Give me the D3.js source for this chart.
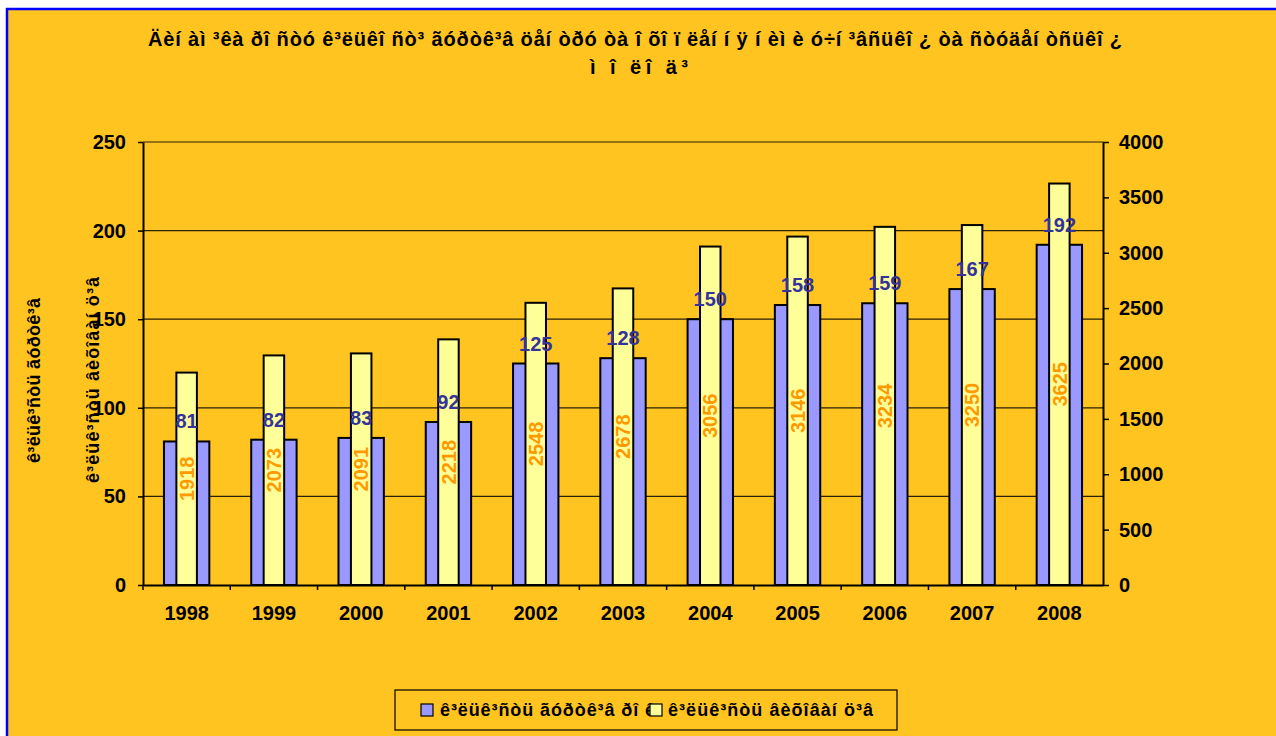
<!DOCTYPE html>
<html>
<head>
<meta charset="utf-8">
<script src="https://cdn.jsdelivr.net/npm/d3@7"></script>
<style>
  body { margin: 0; background: #fff; }
  text { font-family: Arial, "Liberation Sans", sans-serif; font-weight: bold; }
</style>
</head>
<body>
<div id="vis"></div>
<script>
var width = 1276;
var height = 736;

// data
const years = ["1998", "1999", "2000", "2001", "2002", "2003", "2004", "2005", "2006", "2007", "2008"];
const clubs = [81, 82, 83, 92, 125, 128, 150, 158, 159, 167, 192];
const members = [1918, 2073, 2091, 2218, 2548, 2678, 3056, 3146, 3234, 3250, 3625];
const leftTicks = [0, 50, 100, 150, 200, 250];
const rightTicks = [0, 500, 1000, 1500, 2000, 2500, 3000, 3500, 4000];
const titleLines = [
  "Äèí àì ³êà ðî ñòó ê³ëüêî ñò³ ãóðòê³â öåí òðó òà î õî ï ëåí í ÿ í èì è ó÷í ³âñüêî ¿ òà ñòóäåí òñüêî ¿",
  "ì î ëî ä³"
];
const seriesNames = ["ê³ëüê³ñòü ãóðòê³â  ðî ê", "ê³ëüê³ñòü âèõîâàí ö³â"];
const axisTitles = ["ê³ëüê³ñòü ãóðòê³â", "ê³ëüê³ñòü âèõîâàí ö³â"];

const BG = "#FFC41F";
const BLUE = "#9999FF";
const YELLOW = "#FFFF99";

var plot = { left: 143, right: 1103, top: 142, bottom: 585 };

var svg = d3.select("#vis").append("svg")
  .attr("width", width)
  .attr("height", height);

// background + border
svg.append("rect")
  .attr("x", 7).attr("y", 9)
  .attr("width", width).attr("height", height)
  .attr("fill", BG)
  .attr("stroke", "#0000FF")
  .attr("stroke-width", 2.5);

// scales
var x = d3.scaleBand().domain(years).range([plot.left, plot.right]).padding(0);
var yL = d3.scaleLinear().domain([0, 250]).range([plot.bottom, plot.top]);
var yR = d3.scaleLinear().domain([0, 4000]).range([plot.bottom, plot.top]);

// gridlines
svg.append("g").selectAll("line")
  .data(leftTicks.filter(function (d) { return d > 0; }))
  .enter().append("line")
  .attr("x1", plot.left).attr("x2", plot.right)
  .attr("y1", function (d) { return yL(d); })
  .attr("y2", function (d) { return yL(d); })
  .attr("stroke", "#2a2108")
  .attr("stroke-width", 1.2);

// bars
var blueW = x.bandwidth() * 0.52;
var yelW = x.bandwidth() * 0.235;

svg.append("g").selectAll("rect")
  .data(clubs)
  .enter().append("rect")
  .attr("x", function (d, i) { return x(years[i]) + (x.bandwidth() - blueW) / 2; })
  .attr("y", function (d) { return yL(d); })
  .attr("width", blueW)
  .attr("height", function (d) { return plot.bottom - yL(d); })
  .attr("fill", BLUE)
  .attr("stroke", "#000")
  .attr("stroke-width", 2);

svg.append("g").selectAll("rect")
  .data(members)
  .enter().append("rect")
  .attr("x", function (d, i) { return x(years[i]) + (x.bandwidth() - yelW) / 2; })
  .attr("y", function (d) { return yR(d); })
  .attr("width", yelW)
  .attr("height", function (d) { return plot.bottom - yR(d); })
  .attr("fill", YELLOW)
  .attr("stroke", "#000")
  .attr("stroke-width", 2);

// axes
var axL = svg.append("g")
  .attr("transform", "translate(" + plot.left + ",0)")
  .call(d3.axisLeft(yL).tickValues(leftTicks).tickSize(5).tickSizeOuter(0).tickPadding(12));
var axR = svg.append("g")
  .attr("transform", "translate(" + plot.right + ",0)")
  .call(d3.axisRight(yR).tickValues(rightTicks).tickFormat(d3.format("d")).tickSize(6).tickSizeOuter(0).tickPadding(10));
var axB = svg.append("g")
  .attr("transform", "translate(0," + plot.bottom + ")")
  .call(d3.axisBottom(x).tickSize(0).tickSizeOuter(0).tickPadding(21));

[axL, axR, axB].forEach(function (a) {
  a.selectAll("path.domain").attr("stroke", "#000").attr("stroke-width", 2);
  a.selectAll("line").attr("stroke", "#000").attr("stroke-width", 1.5);
  a.selectAll("text").attr("fill", "#000").style("font-size", "20px").style("font-weight", "bold")
    .style("font-family", "Arial, 'Liberation Sans', sans-serif");
});

// x tick marks at band edges
svg.append("g").selectAll("line")
  .data(years)
  .enter().append("line")
  .attr("x1", function (d) { return x(d); })
  .attr("x2", function (d) { return x(d); })
  .attr("y1", plot.bottom)
  .attr("y2", plot.bottom + 5)
  .attr("stroke", "#000")
  .attr("stroke-width", 1.5);

// value labels
svg.append("g").selectAll("text")
  .data(clubs)
  .enter().append("text")
  .attr("x", function (d, i) { return x(years[i]) + x.bandwidth() / 2; })
  .attr("y", function (d) { return yL(d) - 13; })
  .attr("text-anchor", "middle")
  .attr("fill", "#333399")
  .style("font-size", "20px")
  .text(function (d) { return d; });

svg.append("g").selectAll("text")
  .data(members)
  .enter().append("text")
  .attr("transform", function (d, i) {
    var cx = x(years[i]) + x.bandwidth() / 2;
    var cy = (yR(d) + plot.bottom) / 2;
    return "translate(" + cx + "," + cy + ") rotate(-90)";
  })
  .attr("text-anchor", "middle")
  .attr("dy", "0.36em")
  .attr("fill", "#FF9900")
  .style("font-size", "20px")
  .text(function (d) { return d; });

// title
svg.append("text")
  .attr("x", 148).attr("y", 46)
  .attr("textLength", 974).attr("lengthAdjust", "spacing")
  .style("font-size", "20px")
  .text(titleLines[0]);
svg.append("text")
  .attr("x", 590).attr("y", 74)
  .attr("textLength", 98).attr("lengthAdjust", "spacing")
  .style("font-size", "20px")
  .text(titleLines[1]);

// axis titles
svg.append("text")
  .attr("transform", "translate(40,380) rotate(-90)")
  .attr("x", -83)
  .attr("textLength", 165).attr("lengthAdjust", "spacing")
  .style("font-size", "18px")
  .text(axisTitles[0]);
svg.append("text")
  .attr("transform", "translate(99,380) rotate(-90)")
  .attr("x", -103)
  .attr("textLength", 206).attr("lengthAdjust", "spacing")
  .style("font-size", "18px")
  .text(axisTitles[1]);

// legend
var leg = svg.append("g");
leg.append("rect")
  .attr("x", 395).attr("y", 690)
  .attr("width", 502).attr("height", 40)
  .attr("fill", "none")
  .attr("stroke", "#000")
  .attr("stroke-width", 1.2);
leg.append("rect")
  .attr("x", 421).attr("y", 704).attr("width", 12).attr("height", 12)
  .attr("fill", BLUE).attr("stroke", "#000").attr("stroke-width", 1.2);
leg.append("text")
  .attr("x", 440).attr("y", 716)
  .attr("textLength", 215).attr("lengthAdjust", "spacing")
  .style("font-size", "18px")
  .text(seriesNames[0]);
leg.append("rect")
  .attr("x", 650).attr("y", 704).attr("width", 12).attr("height", 12)
  .attr("fill", YELLOW).attr("stroke", "#000").attr("stroke-width", 1.2);
leg.append("text")
  .attr("x", 668).attr("y", 716)
  .attr("textLength", 205).attr("lengthAdjust", "spacing")
  .style("font-size", "18px")
  .text(seriesNames[1]);
</script>
</body>
</html>
